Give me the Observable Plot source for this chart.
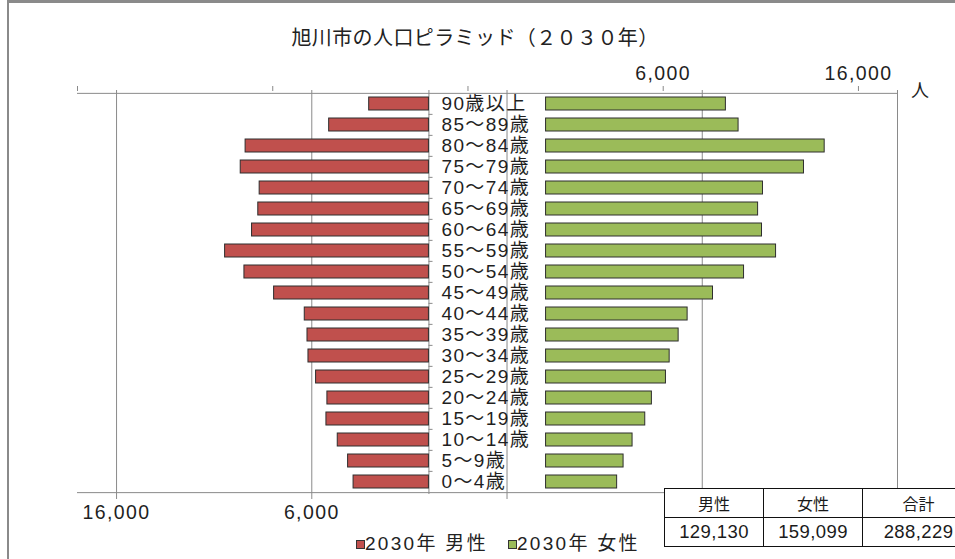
<!DOCTYPE html>
<html><head><meta charset="utf-8">
<script src="https://cdn.jsdelivr.net/npm/d3@7"></script>
<script src="https://cdn.jsdelivr.net/npm/@observablehq/plot@0.6"></script>
<style>
body{margin:0;background:#fff;}
#wrap{position:relative;width:955px;height:559px;overflow:hidden;background:#fff;
  font-family:"Liberation Sans","Noto Sans CJK JP",sans-serif;color:#1f1f1f;}
#wrap svg{position:absolute;left:0;top:0;}
#wrap svg text{letter-spacing:1.4px;}
#frame{position:absolute;left:7px;top:0px;width:1000px;height:600px;border-left:2px solid #8a8a8a;border-top:3px solid #8a8a8a;}
#title{position:absolute;left:0;width:950px;top:26px;text-align:center;font-family:"Noto Sans CJK JP",sans-serif;font-size:20px;line-height:22px;letter-spacing:0.4px;color:#222;}
#unit{position:absolute;left:911px;top:79px;font-family:"Noto Sans CJK JP",sans-serif;font-size:18px;line-height:20px;color:#222;}
#legend{position:absolute;left:356px;top:533px;font-size:19px;line-height:22px;letter-spacing:2.3px;white-space:nowrap;color:#222;}
#legend .item{display:inline-block;margin-right:20px;}
#legend .sw{display:inline-block;width:7px;height:7px;border:1px solid #333;margin-right:0px;vertical-align:1px;}
#summary{position:absolute;left:664px;top:488px;width:310px;border-collapse:collapse;background:#fff;table-layout:fixed;}
#summary td{border:1.5px solid #111;text-align:center;padding:0;height:28px;color:#1a1a1a;}
#summary tr.h td{font-family:"Noto Sans CJK JP",sans-serif;font-size:16px;}
#summary tr.v td{font-size:18.5px;letter-spacing:0.4px;}
</style></head><body>
<div id="wrap">
  <div id="frame"></div>
  <div id="title">旭川市の人口ピラミッド（２０３０年）</div>
  <div id="plots"></div>
  <div id="unit">人</div>
  <div id="legend"></div>
  <table id="summary"><colgroup><col style="width:99px"><col style="width:99px"><col style="width:112px"></colgroup>
    <tbody><tr class="h"></tr><tr class="v"></tr></tbody></table>
</div>
<script>
const ageGroups = ["90歳以上","85～89歳","80～84歳","75～79歳","70～74歳","65～69歳","60～64歳","55～59歳","50～54歳","45～49歳","40～44歳","35～39歳","30～34歳","25～29歳","20～24歳","15～19歳","10～14歳","5～9歳","0～4歳"];
const malePop   = [3060,5110,9390,9640,8670,8740,9060,10440,9450,7930,6360,6220,6170,5780,5200,5250,4670,4140,3860];
const femalePop = [9210,9860,14270,13210,11110,10860,11060,11780,10140,8550,7250,6790,6330,6140,5420,5080,4430,3970,3640];
const maleTicks   = [16000, 6000, -4000, -14000, -24000];
const femaleTicks = [-24000, -14000, -4000, 6000, 16000];
const seriesNames  = ["2030年 男性", "2030年 女性"];
const seriesColors = ["#C0504D", "#9BBB59"];
const summaryLabels = ["男性", "女性", "合計"];
const summaryValues = [129130, 159099, 288229];

const W = 955, H = 559, ML = 77, MR = 58, MT = 90, MB = 65;
const GRID = "#8a8a8a", TEXT = "#1f1f1f", EDGE = "#2e2e2e";
const FONT = '"Liberation Sans","Noto Sans CJK JP",sans-serif';
const step = (H - MT - MB) / ageGroups.length;
const fmt = d => d > 0 ? d3.format(",")(d) : "";

const maleRows = ageGroups.map((age, i) => ({age, value: malePop[i]}));
const femaleRows = ageGroups.map((age, i) => ({age, value: femalePop[i]}));

const common = {
  width: W, height: H, marginLeft: ML, marginRight: MR, marginTop: MT, marginBottom: MB,
  y: {domain: ageGroups, padding: 0, axis: null},
  style: {background: "transparent", fontFamily: FONT, overflow: "visible"}
};

const malePlot = Plot.plot({
  ...common,
  x: {domain: [18000, -24000]},
  marks: [
    Plot.ruleX(maleTicks, {stroke: GRID, strokeWidth: 1}),
    Plot.ruleX([0], {stroke: GRID, strokeWidth: 1}),
    Plot.ruleY(ageGroups.slice(1), {x1: 0, x2: -210, dy: -step / 2, stroke: GRID}),
    Plot.barX(maleRows, {x: "value", y: "age", fill: seriesColors[0], stroke: EDGE, strokeWidth: 1, insetTop: 4, insetBottom: 4}),
    Plot.ruleY([ageGroups[ageGroups.length - 1]], {dy: step / 2, stroke: GRID}),
    Plot.axisX({anchor: "bottom", ticks: maleTicks, tickFormat: fmt, tickSize: 5, tickPadding: 6, fontSize: 19.5, stroke: GRID, fill: TEXT, label: null}),
    Plot.text(ageGroups, {x: () => 0, y: d => d, text: d => d, textAnchor: "start", dx: 12.5, fontSize: 19, fill: TEXT})
  ]
});

const femalePlot = Plot.plot({
  ...common,
  x: {domain: [-24000, 18000]},
  marks: [
    Plot.ruleX([18000], {stroke: GRID, strokeWidth: 1}),
    Plot.barX(femaleRows, {x: "value", y: "age", fill: seriesColors[1], stroke: EDGE, strokeWidth: 1, insetTop: 4, insetBottom: 4}),
    Plot.ruleY([ageGroups[0]], {dy: -step / 2, stroke: GRID}),
    Plot.axisX({anchor: "top", ticks: femaleTicks, tickFormat: fmt, tickSize: 5, tickPadding: 6, fontSize: 19.5, stroke: GRID, fill: TEXT, label: null})
  ]
});

const plots = document.getElementById("plots");
plots.appendChild(malePlot);
plots.appendChild(femalePlot);

const legend = document.getElementById("legend");
seriesNames.forEach((name, i) => {
  const item = document.createElement("span");
  item.className = "item";
  const sw = document.createElement("span");
  sw.className = "sw";
  sw.style.background = seriesColors[i];
  item.appendChild(sw);
  item.appendChild(document.createTextNode(name));
  legend.appendChild(item);
});

const rows = document.querySelectorAll("#summary tr");
summaryLabels.forEach(l => { const td = document.createElement("td"); td.textContent = l; rows[0].appendChild(td); });
summaryValues.forEach(v => { const td = document.createElement("td"); td.textContent = d3.format(",")(v); rows[1].appendChild(td); });
</script>
</body></html>
